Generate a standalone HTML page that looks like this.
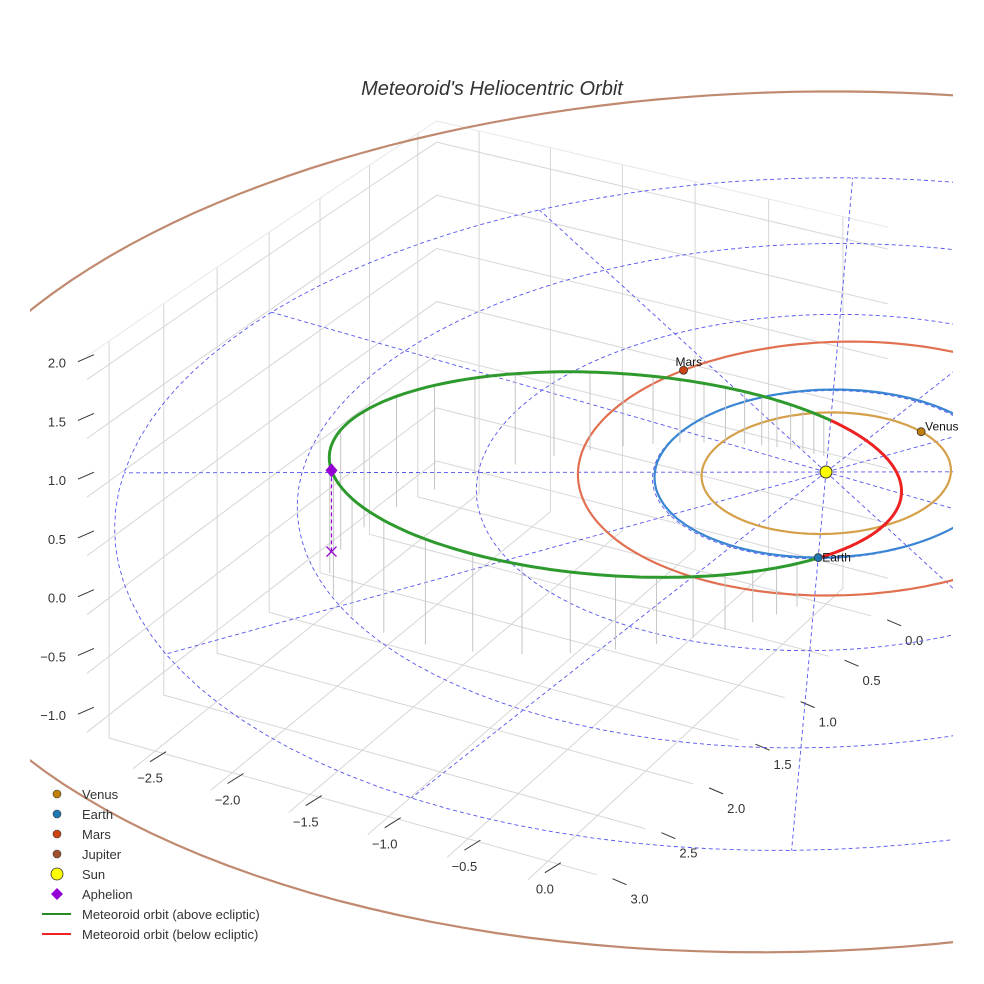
<!DOCTYPE html>
<html><head><meta charset="utf-8"><style>
html,body{margin:0;padding:0;background:#fff;}
svg{display:block;font-family:"Liberation Sans",sans-serif;}
</style></head><body>
<svg id="chart" width="984" height="984" viewBox="0 0 984 984" xmlns="http://www.w3.org/2000/svg">
<defs><clipPath id="clip"><rect x="30" y="0" width="923" height="984"/></clipPath></defs>
<text x="492" y="95" text-anchor="middle" font-size="20" font-style="italic" fill="#333">Meteoroid's Heliocentric Orbit</text>
<g id="box"></g>
<g id="plot" clip-path="url(#clip)"></g>
<g id="labels"></g>
<g id="legend"></g>
</svg>
<script>
const planetNames = ["Venus","Earth","Mars","Jupiter"];
const planetRadii = [0.723, 1.0, 1.524, 5.2];
const planetEcc = [0.0068, 0.0167, 0.0934, 0.0489];
const planetPeriLonDeg = [131, 103, 100, 60];
const planetAnglesDeg = [-69, 63, 207, -30];
const planetColors = ["#c0800a","#1f77b4","#cc4411","#a0522d"];
const orbitColors = ["#d4a04a","#3a86d4","#e07050","#c08a70"];
const gridRings = [1, 2, 3, 4];
const spokeAnglesDeg = [3,33,63,93,123,153,183,213,243,273,303,333];
const zTicks = [-1.0,-0.5,0.0,0.5,1.0,1.5,2.0];
const xTicks = [-2.5,-2.0,-1.5,-1.0,-0.5,0.0];
const yTicks = [0.0,0.5,1.0,1.5,2.0,2.5,3.0];
const meteorA = [1.7];
const meteorE = [0.74];
const meteorNodeDir = [0.45, 0.89];
const meteorInclDeg = [14.6];
const meteorApoArgDeg = [72];

const NS="http://www.w3.org/2000/svg";
const O=[826,472], EX=[150,38], EY=[-85,75], EZ=[0,-110];
function P(x,y,z){const s=1+0.03*y+0.01*x;
  return [O[0]+s*(x*EX[0]+y*EY[0]+z*EZ[0]), O[1]+s*(x*EX[1]+y*EY[1]+z*EZ[1])];}
function el(tag,attrs,parent){const e=document.createElementNS(NS,tag);for(const k in attrs)e.setAttribute(k,attrs[k]);parent.appendChild(e);return e;}
function pathFrom(pts){return pts.map((p,i)=>(i?"L":"M")+p[0].toFixed(1)+","+p[1].toFixed(1)).join("");}
function seg(a,b,n){const out=[];for(let i=0;i<=n;i++){const t=i/n;out.push(P(a[0]+(b[0]-a[0])*t,a[1]+(b[1]-a[1])*t,a[2]+(b[2]-a[2])*t));}return out;}
function planetXY(i,deg){const t=deg*Math.PI/180,w=planetPeriLonDeg[i]*Math.PI/180,e=planetEcc[i];
  const r=planetRadii[i]*(1-e*e)/(1+e*Math.cos(t-w));return [r*Math.cos(t),r*Math.sin(t)];}
const box=document.getElementById("box"), plot=document.getElementById("plot"), lab=document.getElementById("labels"), leg=document.getElementById("legend");
const X0=-2.8,X1=0.3,Y0=-0.2,Y1=3.2,Z0=-1.2,Z1=2.2;
const gl={stroke:"#d6d6d6","stroke-width":1,fill:"none"};
for(let x=-2.5;x<=0.01;x+=0.5){
  let l=el("path",Object.assign({d:pathFrom(seg([x,Y1,Z0],[x,Y0,Z0],10).concat(seg([x,Y0,Z0],[x,Y0,Z1],4)))},gl),box);
  
  
}
for(let y=0;y<=3.01;y+=0.5){
  let l=el("path",Object.assign({d:pathFrom(seg([X1,y,Z0],[X0,y,Z0],10).concat(seg([X0,y,Z0],[X0,y,Z1],4)))},gl),box);
  
  
}
for(let z=-1;z<=2.01;z+=0.5){
  let l=el("path",Object.assign({d:pathFrom(seg([X0,Y1,z],[X0,Y0,z],10).concat(seg([X0,Y0,z],[X1,Y0,z],10)))},gl),box);
  
  
}
let edges=el("path",{d:pathFrom(seg([X0,Y1,Z1],[X0,Y0,Z1],10).concat(seg([X0,Y0,Z1],[X1,Y0,Z1],10))),stroke:"#e8e8e8",fill:"none"},box);


zTicks.forEach(z=>{const p=P(X0,Y1,z);
  let t=el("line",{x1:p[0]-9,y1:p[1]-18,x2:p[0]+7,y2:p[1]-25,stroke:"#333"},box);
  
  
  let tx=el("text",{x:p[0]-21,y:p[1]-12,"font-size":13,fill:"#333","text-anchor":"end"},box);tx.textContent=z.toFixed(1).replace("-","\u2212");
  
  });
xTicks.forEach(x=>{const p=P(x,Y1,Z0);
  let t=el("line",{x1:p[0]+17,y1:p[1]-7,x2:p[0]+33,y2:p[1]-17,stroke:"#333"},box);
  
  
  let tx=el("text",{x:p[0]+17,y:p[1]+14,"font-size":13,fill:"#333","text-anchor":"middle"},box);tx.textContent=x.toFixed(1).replace("-","\u2212");
  
  });
yTicks.forEach(y=>{const p=P(X1,y,Z0);
  let t=el("line",{x1:p[0]+16,y1:p[1]+4,x2:p[0]+30,y2:p[1]+10,stroke:"#333"},box);
  
  
  let tx=el("text",{x:p[0]+34,y:p[1]+29,"font-size":13,fill:"#333","text-anchor":"start"},box);tx.textContent=y.toFixed(1);
  
  });
gridRings.forEach(r=>{const pts=[];for(let a=0;a<=360;a+=3){const t=a*Math.PI/180;pts.push(P(r*Math.cos(t),r*Math.sin(t),0));}
  let c=el("path",{d:pathFrom(pts),stroke:"#5555ee","stroke-width":0.9,"stroke-dasharray":"4,3",fill:"none"},plot);
  
  });
spokeAnglesDeg.forEach(a=>{const t=a*Math.PI/180;
  let s=el("path",{d:pathFrom(seg([0,0,0],[4.0*Math.cos(t),4.0*Math.sin(t),0],10)),stroke:"#5555ee","stroke-width":0.9,"stroke-dasharray":"4,3",fill:"none"},plot);
  
  });
planetRadii.forEach((r,i)=>{const pts=[];for(let a=0;a<=360;a+=2){const q=planetXY(i,a);pts.push(P(q[0],q[1],0));}
  let c=el("path",{d:pathFrom(pts),stroke:orbitColors[i],"stroke-width":2.2,fill:"none"},plot);
  
  });
const n=[meteorNodeDir[0],meteorNodeDir[1],0];
const inc=meteorInclDeg[0]*Math.PI/180;
const perp=[-n[1]*Math.cos(inc),n[0]*Math.cos(inc),Math.sin(inc)];
const a=meteorA[0],e=meteorE[0],pp=a*(1-e*e),peri=(meteorApoArgDeg[0]+180)*Math.PI/180;
function M(uDeg){const u=uDeg*Math.PI/180;const r=pp/(1+e*Math.cos(u-peri));
  return [r*(Math.cos(u)*n[0]+Math.sin(u)*perp[0]),r*(Math.cos(u)*n[1]+Math.sin(u)*perp[1]),r*Math.sin(u)*perp[2]];}
for(let u=6;u<180;u+=5){const q=M(u);const p1=P(...q),p2=P(q[0],q[1],-0.35);
  let d=el("line",{x1:p1[0],y1:p1[1],x2:p2[0],y2:p2[1],stroke:"#c4c4c4","stroke-width":1},plot);
  
  }
const up=[],dn=[];for(let u=0;u<=180;u+=1)up.push(P(...M(u)));for(let u=180;u<=360;u+=1)dn.push(P(...M(u)));
let g=el("path",{d:pathFrom(up),stroke:"#2e9a2e","stroke-width":3,fill:"none"},plot);


let rd=el("path",{d:pathFrom(dn),stroke:"#ee2222","stroke-width":3,fill:"none"},plot);


const ap=M(meteorApoArgDeg[0]),apS=P(...ap),apG=P(ap[0],ap[1],0);
let al=el("line",{x1:apS[0],y1:apS[1],x2:apG[0],y2:apG[1],stroke:"#9400d3","stroke-width":1.2,"stroke-dasharray":"4,3"},plot);


let ax=el("path",{d:`M${apG[0]-5},${apG[1]-5}L${apG[0]+5},${apG[1]+5}M${apG[0]-5},${apG[1]+5}L${apG[0]+5},${apG[1]-5}`,stroke:"#9400d3","stroke-width":1.3},plot);


let ad=el("path",{d:`M${apS[0]},${apS[1]-7}L${apS[0]+6},${apS[1]}L${apS[0]},${apS[1]+7}L${apS[0]-6},${apS[1]}Z`,fill:"#9400d3"},plot);


planetNames.forEach((nm,i)=>{const q=planetXY(i,planetAnglesDeg[i]);const p=P(q[0],q[1],0);
  if(p[0]<30||p[0]>953||p[1]<0||p[1]>984)return;
  let c=el("circle",{cx:p[0],cy:p[1],r:4,fill:planetColors[i],stroke:"#333","stroke-width":0.8},plot);
  
  
  let tx=el("text",{x:p[0]+(nm==="Mars"?-8:4),y:p[1]+(nm==="Mars"?-4:(nm==="Earth"?4:-1)),"font-size":12,fill:"#111"},lab);tx.textContent=nm;
  
  });
const s0=P(0,0,0);
let sun=el("circle",{cx:s0[0],cy:s0[1],r:6,fill:"#ffff00",stroke:"#333","stroke-width":1},plot);


const legendLabels=["Venus","Earth","Mars","Jupiter","Sun","Aphelion","Meteoroid orbit (above ecliptic)","Meteoroid orbit (below ecliptic)"];
legendLabels.forEach((lb,i)=>{const y=794+i*20;let m;
  if(i<4)m=el("circle",{cx:57,cy:y,r:4,fill:planetColors[i],stroke:"#333","stroke-width":0.6},leg);
  else if(i===4)m=el("circle",{cx:57,cy:y,r:6,fill:"#ffff00",stroke:"#333","stroke-width":0.8},leg);
  else if(i===5)m=el("path",{d:`M57,${y-6}L63,${y}L57,${y+6}L51,${y}Z`,fill:"#9400d3"},leg);
  else m=el("line",{x1:42,y1:y,x2:71,y2:y,stroke:i===6?"#228b22":"#ee2222","stroke-width":2},leg);
  
  
  let tx=el("text",{x:82,y:y+5,"font-size":13,fill:"#333"},leg);tx.textContent=lb;
  
  });
</script>
</body></html>
